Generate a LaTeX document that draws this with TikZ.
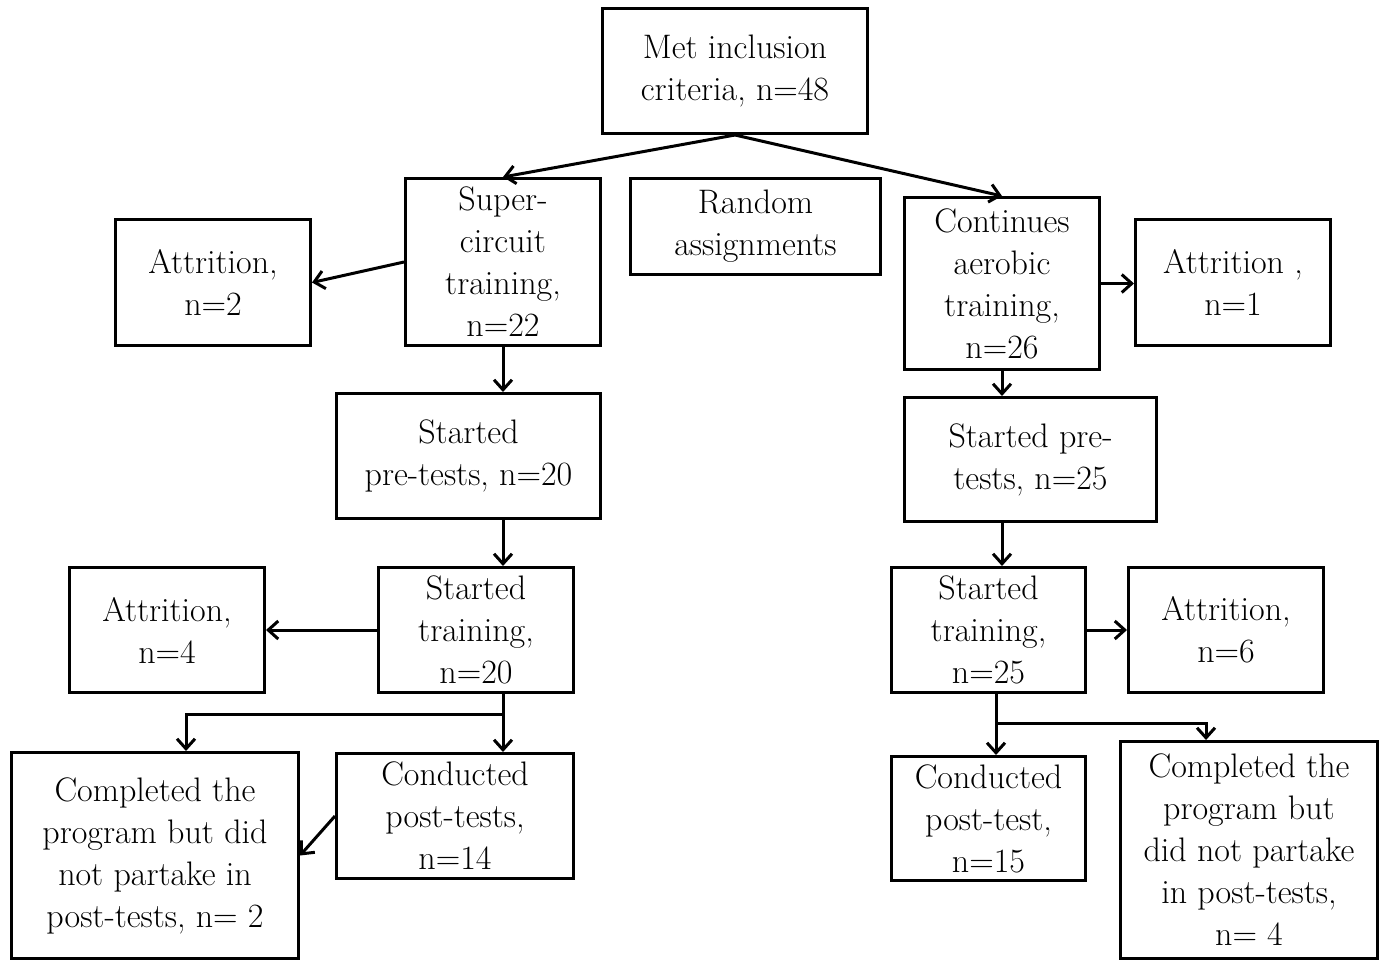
\documentclass[tikz,border=0pt]{standalone}
\usetikzlibrary{arrows.meta}
\begin{document}
\begin{tikzpicture}[x=1pt,y=-1pt,
  box/.style={draw,line width=3pt,rectangle,inner sep=0pt,align=center,
    font=\fontsize{34}{42}\selectfont},
  conn/.style={line width=3pt,-{Straight Barb[length=10pt,width=18pt,line width=3pt]}},
  plain/.style={line width=3pt}]
\useasboundingbox (0,0) rectangle (1387,962);
\node[box,minimum width=265,minimum height=125] (met) at (735,71) {Met inclusion\\criteria, n=48};
\node[box,minimum width=195,minimum height=167] (sup) at (503,262) {Super-\\circuit\\training,\\n=22};
\node[box,minimum width=250,minimum height=96] (rand) at (755.5,226.5) {Random\\assignments};
\node[box,minimum width=195,minimum height=172] (cont) at (1002,283.5) {Continues\\aerobic\\training,\\n=26};
\node[box,minimum width=195,minimum height=126] (a2) at (213,282.5) {Attrition,\\n=2};
\node[box,minimum width=195,minimum height=126] (a1) at (1233,282.5) {Attrition ,\\n=1};
\node[box,minimum width=264,minimum height=125] (pre20) at (468.5,456) {Started\\pre-tests, n=20};
\node[box,minimum width=252,minimum height=124] (pre25) at (1030.5,459.5) {Started pre-\\tests, n=25};
\node[box,minimum width=195,minimum height=125] (tr20) at (476,630) {Started\\training,\\n=20};
\node[box,minimum width=195,minimum height=125] (a4) at (167,630) {Attrition,\\n=4};
\node[box,minimum width=194,minimum height=125] (tr25) at (988.5,630) {Started\\training,\\n=25};
\node[box,minimum width=195,minimum height=125] (a6) at (1226,630) {Attrition,\\n=6};
\node[box,minimum width=287,minimum height=206] (comp1) at (155,855.5) {Completed the\\program but did\\not partake in\\post-tests, n= 2};
\node[box,minimum width=237,minimum height=125] (post14) at (455,816) {Conducted\\post-tests,\\n=14};
\node[box,minimum width=194,minimum height=124] (post15) at (988.5,818.5) {Conducted\\post-test,\\n=15};
\node[box,minimum width=257,minimum height=217] (comp2) at (1249,850) {Completed the\\program but\\did not partake\\in post-tests,\\n= 4};
% connectors
\draw[conn] (met.south) -- (sup.north);
\draw[conn] (met.south) -- (cont.north);
\draw[conn] (sup.west) -- (a2.east);
\draw[conn] (sup.south) -- (sup.south |- pre20.north);
\draw[conn] (cont.east) -- (cont.east -| a1.west);
\draw[conn] (cont.south) -- (cont.south |- pre25.north);
\draw[conn] (sup.south |- pre20.south) -- (sup.south |- tr20.north);
\draw[conn] (cont.south |- pre25.south) -- (cont.south |- tr25.north);
\draw[conn] (tr20.west) -- (a4.east);
\draw[conn] (tr25.east) -- (a6.west);
% left split
\coordinate (lsplit) at (503,714);
\coordinate (lleft) at (186,714);
\draw[plain] (lsplit |- tr20.south) -- (lsplit);
\draw[conn] (lsplit) -- (lsplit |- post14.north);
\draw[conn] (lsplit) -- (lleft) -- (lleft |- comp1.north);
\draw[conn] (post14.west) -- (comp1.east);
% right split
\coordinate (rsplit) at (996,723);
\coordinate (rright) at (1206,723);
\draw[plain] (rsplit |- tr25.south) -- (rsplit);
\draw[conn] (rsplit) -- (rsplit |- post15.north);
\draw[conn] (rsplit) -- (rright) -- (rright |- comp2.north);
\end{tikzpicture}
\end{document}
